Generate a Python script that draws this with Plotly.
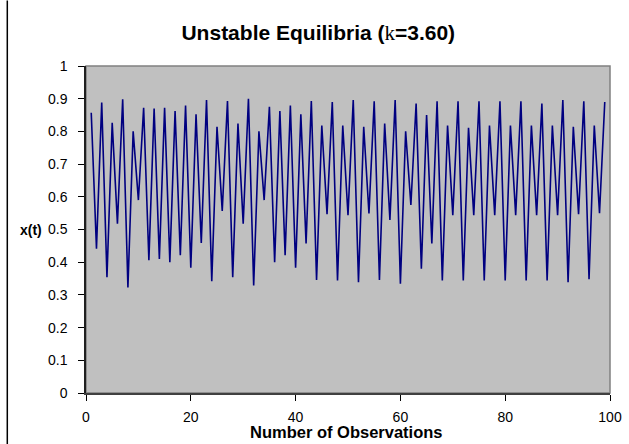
import plotly.graph_objects as go

# Observation index
obs = list(range(1, 100))
# x(t) values
xt = [
    0.857, 0.441, 0.888, 0.354, 0.826, 0.518, 0.898, 0.323, 0.800, 0.590,
    0.872, 0.406, 0.870, 0.410, 0.872, 0.400, 0.862, 0.421, 0.879, 0.383,
    0.852, 0.459, 0.896, 0.342, 0.814, 0.557, 0.893, 0.354, 0.824, 0.518,
    0.900, 0.329, 0.800, 0.590, 0.875, 0.400, 0.862, 0.421, 0.879, 0.383,
    0.852, 0.457, 0.893, 0.346, 0.818, 0.547, 0.890, 0.344, 0.818, 0.544,
    0.896, 0.339, 0.814, 0.549, 0.892, 0.346, 0.824, 0.529, 0.896, 0.334,
    0.800, 0.575, 0.885, 0.380, 0.850, 0.457, 0.892, 0.344, 0.818, 0.544,
    0.892, 0.344, 0.811, 0.544, 0.892, 0.344, 0.818, 0.544, 0.892, 0.344,
    0.818, 0.544, 0.892, 0.344, 0.818, 0.544, 0.885, 0.344, 0.818, 0.544,
    0.896, 0.339, 0.814, 0.547, 0.892, 0.348, 0.818, 0.550, 0.890,
]
x_ticks = [0, 20, 40, 60, 80, 100]
y_ticks = [0, 0.1, 0.2, 0.3, 0.4, 0.5, 0.6, 0.7, 0.8, 0.9, 1]
y_ticktext = ["0", "0.1", "0.2", "0.3", "0.4", "0.5", "0.6", "0.7", "0.8", "0.9", "1"]

FONT = "Liberation Sans, Arial, sans-serif"

fig = go.Figure()
fig.add_trace(go.Scatter(
    x=obs, y=xt, mode="lines",
    line=dict(color="#000080", width=1.6),
    hoverinfo="skip", showlegend=False,
))

fig.update_layout(
    width=629, height=444,
    margin=dict(l=85.7, r=19.3, t=65.5, b=51.3, autoexpand=False),
    paper_bgcolor="white",
    plot_bgcolor="#C0C0C0",
    font=dict(family=FONT, size=14, color="black"),
    title=dict(
        text="<b>Unstable Equilibria (</b><span style='font-family:Liberation Serif'>k</span><b>=3.60)</b>",
        x=(318 - 85.7) / 524, xanchor="center", xref="paper",
        y=1 - 33 / 444, yanchor="middle", yref="container",
        font=dict(family=FONT, size=21, color="black"),
    ),
    xaxis=dict(
        range=[0, 100], tickvals=x_ticks, ticks="outside", ticklen=6,
        tickcolor="black", showline=True, linecolor="#404040", linewidth=1.5,
        showgrid=False, zeroline=False, tickfont=dict(size=14),
        ticklabelstandoff=4, automargin=False,
    ),
    yaxis=dict(
        range=[0, 1], tickvals=y_ticks, ticktext=y_ticktext, ticks="outside",
        ticklen=6, tickcolor="black", showline=True, linecolor="#202020",
        linewidth=1.5, showgrid=False, zeroline=False, tickfont=dict(size=14),
        ticklabelstandoff=8, automargin=False,
    ),
    shapes=[
        dict(type="rect", xref="paper", yref="paper", x0=0, x1=1, y0=0, y1=1,
             line=dict(color="#808080", width=1.5), layer="below"),
        dict(type="line", xref="paper", yref="paper",
             x0=(7 - 85.7) / 524, x1=(7 - 85.7) / 524,
             y0=(392.7 - 0) / 327.2, y1=(392.7 - 444) / 327.2,
             line=dict(color="black", width=1.5)),
    ],
    annotations=[
        dict(text="<b>x(t)</b>", xref="paper", yref="paper",
             x=(30.5 - 85.7) / 524, y=0.5, xanchor="center", yanchor="middle",
             showarrow=False, font=dict(size=14)),
        dict(text="<b>Number of Observations</b>", xref="paper", yref="paper",
             x=(346 - 85.7) / 524, y=(392.7 - 431.5) / 327.2,
             xanchor="center", yanchor="middle",
             showarrow=False, font=dict(size=16.5)),
    ],
)

fig.write_html("out.html")
